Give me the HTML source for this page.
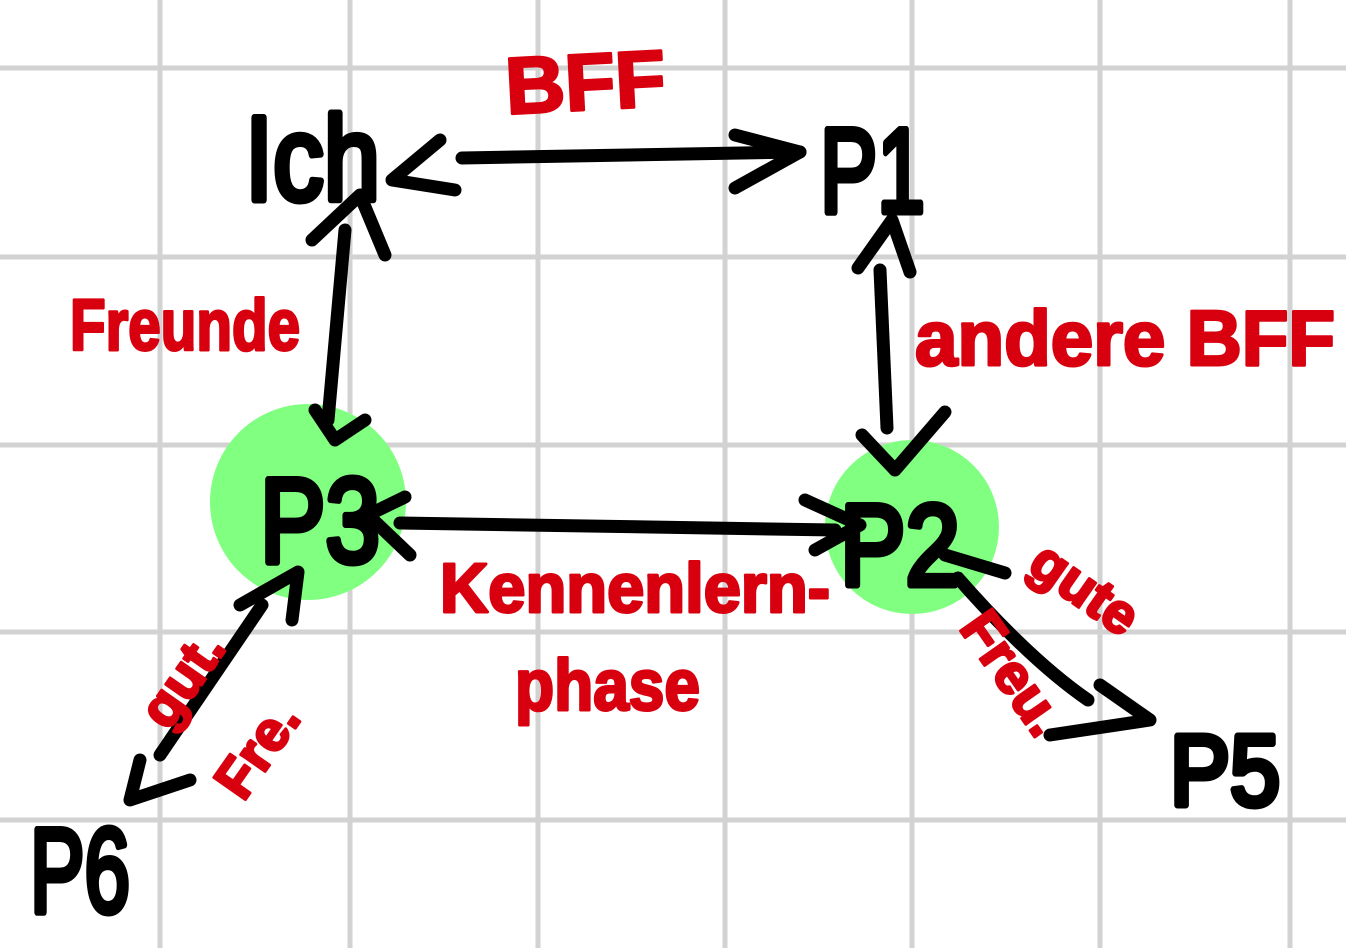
<!DOCTYPE html>
<html><head><meta charset="utf-8"><style>
html,body{margin:0;padding:0;background:#fff;width:1346px;height:948px;overflow:hidden}
svg{display:block}
.b{font-family:"Liberation Sans",sans-serif;fill:#000;stroke:#000;stroke-width:7;stroke-linejoin:round}
.r{font-family:"Liberation Sans",sans-serif;fill:#d8000f;stroke:#d8000f;stroke-width:3;stroke-linejoin:round;font-weight:bold}
</style></head><body>
<svg width="1346" height="948" viewBox="0 0 1346 948" xmlns="http://www.w3.org/2000/svg">
<g stroke="#d2d2d2" stroke-width="5">
<line x1="160" y1="0" x2="160" y2="948"/><line x1="350" y1="0" x2="350" y2="948"/>
<line x1="538" y1="0" x2="538" y2="948"/><line x1="725" y1="0" x2="725" y2="948"/>
<line x1="912" y1="0" x2="912" y2="948"/><line x1="1100" y1="0" x2="1100" y2="948"/>
<line x1="1290" y1="0" x2="1290" y2="948"/>
<line x1="0" y1="68" x2="1346" y2="68"/><line x1="0" y1="257" x2="1346" y2="257"/>
<line x1="0" y1="445" x2="1346" y2="445"/><line x1="0" y1="632" x2="1346" y2="632"/>
<line x1="0" y1="820" x2="1346" y2="820"/>
</g>
<circle cx="308" cy="502" r="98" fill="#80ff80"/>
<circle cx="912" cy="527" r="87" fill="#80ff80"/>
<g stroke="#000" stroke-width="13" stroke-linecap="round" stroke-linejoin="round" fill="none">
<line x1="462" y1="158" x2="800" y2="152"/>
<polyline points="440,140 392,180 455,190"/>
<polyline points="735,135 800,152 735,188"/>
<line x1="345" y1="230" x2="328" y2="420"/>
<polyline points="312,240 360,195 385,255"/>
<polyline points="315,410 335,440 365,420"/>
<line x1="880" y1="270" x2="887" y2="428"/>
<polyline points="858,268 892,220 910,272"/>
<polyline points="862,435 895,470 945,412"/>
<line x1="400" y1="523" x2="835" y2="530"/>
<polyline points="405,497 368,515 410,555"/>
<polyline points="805,500 860,525 815,550"/>
<line x1="262" y1="605" x2="160" y2="755"/>
<polyline points="240,605 298,572 292,620"/>
<polyline points="140,760 130,800 190,780"/>
<path d="M958,578 Q1030,660 1088,700"/>
<polyline points="1100,685 1150,720 1050,735"/>
<polyline points="945,555 1005,573"/>
</g>
<text class="b" x="245" y="200" font-size="120" textLength="135" lengthAdjust="spacingAndGlyphs">Ich</text>
<text class="b" x="820" y="212" font-size="120" textLength="105" lengthAdjust="spacingAndGlyphs">P1</text>
<text class="b" x="260" y="562" font-size="120" textLength="120" lengthAdjust="spacingAndGlyphs">P3</text>
<text class="b" x="840" y="585" font-size="115" textLength="120" lengthAdjust="spacingAndGlyphs">P2</text>
<text class="b" x="1170" y="805" font-size="100" textLength="110" lengthAdjust="spacingAndGlyphs">P5</text>
<text class="b" x="30" y="912" font-size="120" textLength="100" lengthAdjust="spacingAndGlyphs">P6</text>
<text class="r" x="505" y="110" font-size="80" textLength="160" lengthAdjust="spacingAndGlyphs" transform="rotate(-3 580 75)">BFF</text>
<text class="r" x="70" y="350" font-size="72" textLength="230" lengthAdjust="spacingAndGlyphs">Freunde</text>
<text class="r" x="915" y="365" font-size="78" textLength="420" lengthAdjust="spacingAndGlyphs">andere BFF</text>
<text class="r" x="440" y="612" font-size="70" textLength="390" lengthAdjust="spacingAndGlyphs">Kennenlern-</text>
<text class="r" x="515" y="710" font-size="72" textLength="185" lengthAdjust="spacingAndGlyphs">phase</text>
<text class="r" x="1010" y="600" font-size="56" transform="rotate(35 1065 610)">gute</text>
<text class="r" x="900" y="660" font-size="56" transform="rotate(55 960 700)">Freu.</text>
<text class="r" x="110" y="700" font-size="56" transform="rotate(-55 170 660)">gut.</text>
<text class="r" x="195" y="760" font-size="56" transform="rotate(-55 260 735)">Fre.</text>
</svg>
</body></html>
